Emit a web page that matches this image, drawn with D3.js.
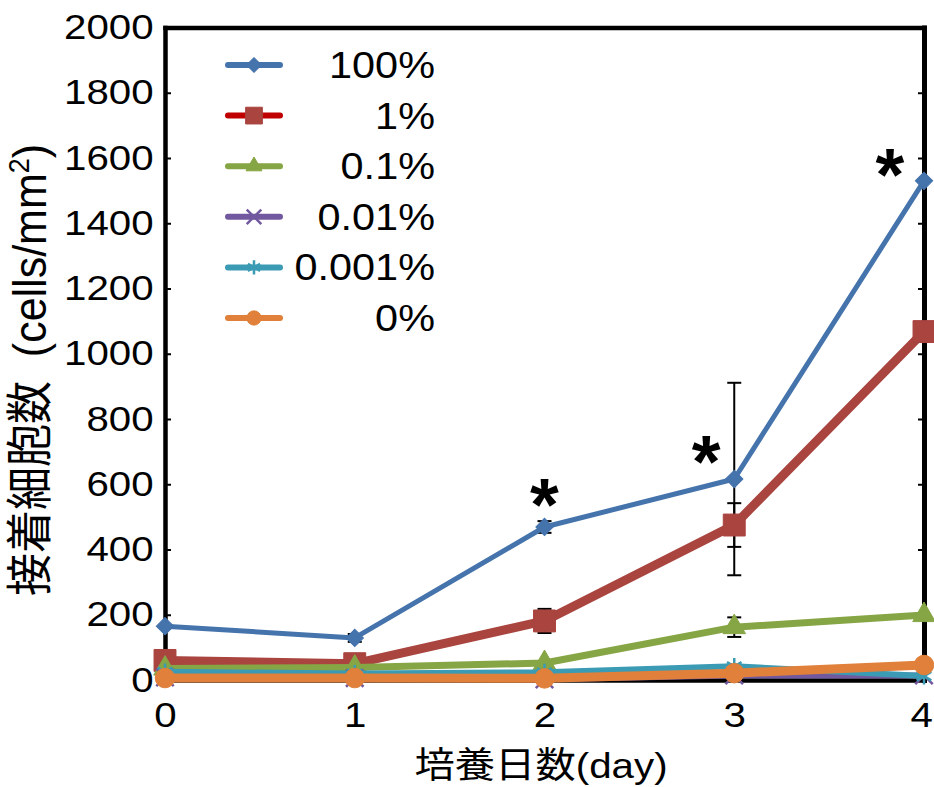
<!DOCTYPE html>
<html>
<head>
<meta charset="utf-8">
<script src="https://cdn.jsdelivr.net/npm/d3@7"></script>
<style>
  body { margin: 0; background: #fff; }
  svg { display: block; font-family: 'Liberation Sans', Arial, 'Noto Sans CJK JP', sans-serif; }
</style>
</head>
<body>
<svg id="chart" width="934" height="787"></svg>
<script>
'use strict';

// values (cells/mm2)
const days = [0, 1, 2, 3, 4];
const seriesNames = ['100%', '1%', '0.1%', '0.01%', '0.001%', '0%'];
const v100 = [165, 129, 469, 616, 1530];
const v1 = [60, 50, 181, 475, 1068];
const v01 = [35, 38, 52, 162, 199];
const v001 = [8, 6, 2, 14, 14];
const v0001 = [25, 20, 24, 42, 12];
const v0 = [6, 6, 5, 21, 46];
const err100 = [0, 12, 18, 295, 0];
const err1 = [0, 0, 37, 67, 0];
const err01 = [0, 0, 0, 30, 0];
const yTicks = [0, 200, 400, 600, 800, 1000, 1200, 1400, 1600, 1800, 2000];
const starDays = [2, 3, 4];

const svg = d3.select('#chart'),
  stretch = 1.15;

const x = d3.scaleLinear().domain([0, 4]).range([165, 924]),
  y = d3.scaleLinear().domain([0, 2000]).range([680, 27.5]);

const styles = [
  { color: '#4573ac', legendColor: '#4573ac', width: 5, marker: 'diamond', size: 150, lsize: 110 },
  { color: '#a9443f', legendColor: '#c00000', width: 9, marker: 'square', size: 480, lsize: 280 },
  { color: '#86a544', legendColor: '#86a544', width: 7, marker: 'triangle', size: 220, lsize: 110 },
  { color: '#71589f', legendColor: '#71589f', width: 6, marker: 'times', size: 200, lsize: 140 },
  { color: '#3b9bb4', legendColor: '#3b9bb4', width: 6, marker: 'asterisk', size: 200, lsize: 140 },
  { color: '#e0803a', legendColor: '#e0803a', width: 9, marker: 'circle', size: 300, lsize: 160 }
];
const values = [v100, v1, v01, v001, v0001, v0];
const errors = [err100, err1, err01, null, null, null];

const symbolTypes = {
  diamond: d3.symbolSquare,
  square: d3.symbolSquare,
  triangle: d3.symbolTriangle,
  times: d3.symbolTimes,
  asterisk: d3.symbolAsterisk,
  circle: d3.symbolCircle
};

function marker(g, st, size) {
  const p = g.append('path')
    .attr('d', d3.symbol().type(symbolTypes[st.marker]).size(size)());
  if (st.marker === 'times' || st.marker === 'asterisk') {
    p.attr('fill', 'none').attr('stroke', st.color).attr('stroke-width', 2.5);
  } else {
    p.attr('fill', st.color).attr('stroke', st.color).attr('stroke-width', 1);
  }
  if (st.marker === 'diamond') p.attr('transform', 'rotate(45)');
  return p;
}

// frame: top and right lines
svg.append('g')
  .attr('transform', 'translate(0,27.5)')
  .call(d3.axisTop(x).tickValues([]).tickSizeOuter(0))
  .select('.domain').attr('stroke-width', 4.5).attr('stroke-linecap', 'square');

svg.append('g')
  .attr('transform', 'translate(924,0)')
  .call(d3.axisRight(y).tickValues(yTicks).tickSizeInner(-6).tickSizeOuter(0).tickFormat(''))
  .call((g) => g.select('.domain').attr('stroke-width', 5).attr('stroke-linecap', 'square'))
  .call((g) => g.selectAll('.tick line').attr('stroke-width', 2));

// y axis
const yAxis = svg.append('g')
  .attr('transform', 'translate(165,0)')
  .call(d3.axisLeft(y).tickValues(yTicks).tickSizeInner(-6).tickSizeOuter(0).tickPadding(10)
    .tickFormat(d3.format('d')));
yAxis.select('.domain').attr('stroke-width', 4.5).attr('stroke-linecap', 'square');
yAxis.selectAll('.tick line').attr('stroke-width', 2);
yAxis.selectAll('.tick text')
  .attr('font-size', 35)
  .attr('fill', '#000')
  .attr('font-family', 'Liberation Sans, Arial, sans-serif')
  .attr('transform', 'scale(' + stretch + ',1)');

// x axis
const xAxis = svg.append('g')
  .attr('transform', 'translate(0,680)')
  .call(d3.axisBottom(x).tickValues(days).tickSize(0).tickPadding(22).tickFormat(d3.format('d')));
xAxis.select('.domain').attr('stroke-width', 4.5);
xAxis.selectAll('.tick text')
  .attr('font-size', 35)
  .attr('fill', '#000')
  .attr('font-family', 'Liberation Sans, Arial, sans-serif')
  .attr('dx', (d) => d === 4 ? -2.5 : 0)
  .attr('transform', 'scale(' + stretch + ',1)');

// axis titles
svg.append('text')
  .attr('transform', 'translate(541,778) scale(1.12,1)')
  .attr('text-anchor', 'middle')
  .attr('font-size', 36)
  .attr('fill', '#000')
  .text('培養日数(day)');

const yTitle = svg.append('text')
  .attr('transform', 'translate(46,370) rotate(-90) scale(1,1.08)')
  .attr('text-anchor', 'middle')
  .attr('font-size', 43)
  .attr('fill', '#000');
yTitle.append('tspan').text('接着細胞数\u00a0\u00a0(cells/mm');
yTitle.append('tspan').attr('font-size', 27).attr('dy', -16).text('2');
yTitle.append('tspan').attr('dy', 16).text(')');

// error bars (drawn below the series)
const errG = svg.append('g').attr('stroke', '#000').attr('stroke-width', 2);
errors.forEach((errs, i) => {
  if (!errs) return;
  days.forEach((d, j) => {
    if (!errs[j]) return;
    const cx = x(d), lo = y(values[i][j] - errs[j]), hi = y(values[i][j] + errs[j]);
    errG.append('line').attr('x1', cx).attr('x2', cx).attr('y1', lo).attr('y2', hi);
    errG.append('line').attr('x1', cx - 7).attr('x2', cx + 7).attr('y1', lo).attr('y2', lo);
    errG.append('line').attr('x1', cx - 7).attr('x2', cx + 7).attr('y1', hi).attr('y2', hi);
  });
});

// series
const line = d3.line().x((d) => x(d[0])).y((d) => y(d[1]));
values.forEach((vals, i) => {
  const st = styles[i],
    pts = days.map((d, j) => [d, vals[j]]);
  const g = svg.append('g');
  g.append('path')
    .attr('d', line(pts))
    .attr('fill', 'none')
    .attr('stroke', st.color)
    .attr('stroke-width', st.width)
    .attr('stroke-linejoin', 'round');
  pts.forEach((p) => {
    const m = g.append('g').attr('transform', 'translate(' + x(p[0]) + ',' + y(p[1]) + ')');
    marker(m, st, st.size);
  });
});

// significance marks
const starOffsets = { 2: [0, -37], 3: [-28, -32], 4: [-34, -21] };
starDays.forEach((d) => {
  const o = starOffsets[d];
  svg.append('text')
    .attr('x', x(d) + o[0])
    .attr('y', y(v100[d]) + o[1] + 40)
    .attr('text-anchor', 'middle')
    .attr('font-size', 74)
    .attr('font-weight', 'bold')
    .attr('fill', '#000')
    .text('*');
});

// legend
const legend = svg.append('g');
seriesNames.forEach((name, i) => {
  const st = styles[i],
    ly = 65 + i * 50.6;
  const row = legend.append('g').attr('transform', 'translate(0,' + ly + ')');
  row.append('line')
    .attr('x1', 228).attr('x2', 280)
    .attr('stroke', st.legendColor)
    .attr('stroke-width', 6)
    .attr('stroke-linecap', 'round');
  const m = row.append('g').attr('transform', 'translate(254,0)');
  marker(m, st, st.lsize);
  row.append('text')
    .attr('transform', 'translate(435,13) scale(1.12,1)')
    .attr('text-anchor', 'end')
    .attr('font-size', 37)
    .attr('fill', '#000')
    .text(name);
});
</script>
</body>
</html>
